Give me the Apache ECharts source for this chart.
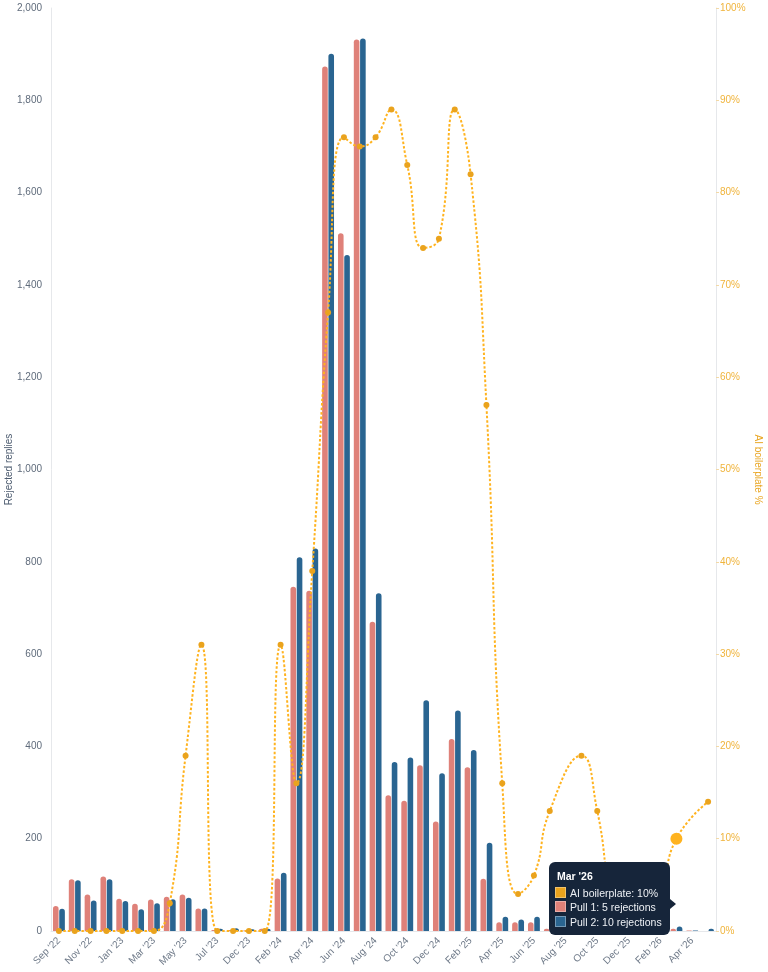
<!DOCTYPE html>
<html>
<head>
<meta charset="utf-8">
<style>
  html, body { margin: 0; padding: 0; background: #fff; }
  #chart { width: 768px; height: 972px; }
</style>
</head>
<body>
<div id="chart"></div>
<script src="https://cdn.jsdelivr.net/npm/echarts@6/dist/echarts.min.js"></script>
<script>
// months on the x axis (one between Jul '23 and Dec '23 has no label)
var months = ["Sep '22","Oct '22","Nov '22","Dec '22","Jan '23","Feb '23","Mar '23","Apr '23","May '23","Jun '23",
  "Jul '23","Nov '23","Dec '23","Jan '24","Feb '24","Mar '24","Apr '24","May '24","Jun '24","Jul '24",
  "Aug '24","Sep '24","Oct '24","Nov '24","Dec '24","Jan '25","Feb '25","Mar '25","Apr '25","May '25",
  "Jun '25","Jul '25","Aug '25","Sep '25","Oct '25","Nov '25","Dec '25","Jan '26","Feb '26","Mar '26",
  "Apr '26","May '26"];

// rejected replies per month
var pull1 = [54,112,79,118,70,59,68,74,79,49, 2,2,1,5,114,746,737,1873,1512,1932,
  670,294,282,359,237,416,355,113,19,19, 19,5,3,2,3,2,1,2,3,5, 1,0];
var pull2 = [48,110,66,112,65,47,60,69,72,49, 5,6,4,5,126,810,829,1901,1465,1934,
  732,366,376,500,342,478,392,191,31,25, 31,8,6,4,5,3,2,4,6,10, 1,5];

// AI boilerplate share, %
var aiPct = [0,0,0,0,0,0,0,3,19,31, 0,0,0,0,31,16,39,67,86,85,
  86,89,83,74,75,89,82,57,16,4, 6,13,null,19,13,3,0,1,4,10, null,14];

var leftTicks = { min: 0, max: 2000, interval: 200 };
var rightTicks = { min: 0, max: 100, interval: 10 };

var tipIndex = 39;

var C_PULL1 = '#df8179';
var C_PULL2 = '#2a6591';
var C_AI = '#eaa31d';

var myChart = echarts.init(document.getElementById('chart'));

function sq(c) {
  return '<span style="display:inline-block;width:9px;height:9px;background:' + c +
    ';border:1px solid rgba(255,255,255,0.35);margin-right:4px;vertical-align:-1px;"></span>';
}

var option = {
  animation: false,
  textStyle: { fontFamily: 'Liberation Sans, Arial, sans-serif' },
  grid: { left: 51, right: 52, top: 8, bottom: 41, outerBoundsMode: 'none', containLabel: false },
  tooltip: {
    trigger: 'axis',
    axisPointer: { type: 'none' },
    alwaysShowContent: true,
    transitionDuration: 0,
    backgroundColor: '#16253a',
    borderColor: '#16253a',
    borderWidth: 0,
    padding: [7, 8, 6, 6],
    extraCssText: 'border-radius:6px;box-shadow:none;',
    textStyle: { color: '#eef1f5', fontSize: 10.5, fontFamily: 'Liberation Sans, Arial, sans-serif' },
    position: function (point, params, dom, rect, size) {
      return [point[0] - size.contentSize[0] - 6, point[1] + 23];
    },
    formatter: function (params) {
      var i = params[0].dataIndex;
      return '<div style="position:relative;line-height:14.5px;">' +
        '<div style="font-weight:bold;color:#fff;margin:0 0 2px 2px;">' + months[i] + '</div>' +
        '<div>' + sq(C_AI) + 'AI boilerplate: ' + aiPct[i] + '%</div>' +
        '<div>' + sq(C_PULL1) + 'Pull 1: ' + pull1[i] + ' rejections</div>' +
        '<div>' + sq(C_PULL2) + 'Pull 2: ' + pull2[i] + ' rejections</div>' +
        '<div style="position:absolute;right:-14px;top:30px;width:0;height:0;' +
        'border-top:5px solid transparent;border-bottom:5px solid transparent;border-left:6px solid #16253a;"></div>' +
        '</div>';
    }
  },
  xAxis: {
    type: 'category',
    data: months,
    axisLine: { lineStyle: { color: '#e6e8eb' } },
    axisTick: { show: false },
    axisLabel: {
      interval: 1,
      rotate: 45,
      margin: 8,
      color: '#6f7a89',
      fontSize: 10
    }
  },
  yAxis: [
    {
      type: 'value',
      min: leftTicks.min, max: leftTicks.max, interval: leftTicks.interval,
      name: 'Rejected replies',
      nameLocation: 'middle',
      nameGap: 37,
      nameMoveOverlap: false,
      nameTextStyle: { color: '#4b5a6e', fontSize: 10 },
      axisLine: { show: true, lineStyle: { color: '#e6e8eb' } },
      axisTick: { show: false },
      splitLine: { show: false },
      axisLabel: {
        color: '#5f6b7b', fontSize: 10, margin: 9,
        formatter: function (v) { return v.toLocaleString('en-US'); }
      }
    },
    {
      type: 'value',
      position: 'right',
      min: rightTicks.min, max: rightTicks.max, interval: rightTicks.interval,
      name: 'AI boilerplate %',
      nameLocation: 'middle',
      nameGap: 37,
      nameMoveOverlap: false,
      nameRotate: -90,
      nameTextStyle: { color: '#e9a521', fontSize: 10 },
      axisLine: { show: true, lineStyle: { color: '#e6e8eb' } },
      axisTick: { show: true, length: 3, lineStyle: { color: '#f3d9a6' } },
      splitLine: { show: false },
      axisLabel: { color: '#f0b43c', fontSize: 10, margin: 4, formatter: '{value}%' }
    }
  ],
  series: [
    {
      name: 'Pull 1',
      type: 'bar',
      data: pull1,
      barWidth: 5.6,
      barGap: '12%',
      itemStyle: { color: C_PULL1, borderRadius: [3, 3, 0, 0] },
      emphasis: { disabled: true }
    },
    {
      name: 'Pull 2',
      type: 'bar',
      data: pull2,
      barWidth: 5.6,
      barGap: '12%',
      itemStyle: { color: C_PULL2, borderRadius: [3, 3, 0, 0] },
      emphasis: { disabled: true }
    },
    {
      name: 'AI boilerplate',
      type: 'line',
      yAxisIndex: 1,
      data: aiPct,
      smooth: true,
      connectNulls: true,
      symbol: 'circle',
      symbolSize: 6,
      z: 5,
      lineStyle: { color: C_AI, width: 2, type: [2.5, 2] },
      itemStyle: { color: C_AI },
      emphasis: { scale: 2 }
    }
  ]
};

myChart.setOption(option);
myChart.dispatchAction({ type: 'showTip', seriesIndex: 2, dataIndex: tipIndex });
</script>
</body>
</html>
